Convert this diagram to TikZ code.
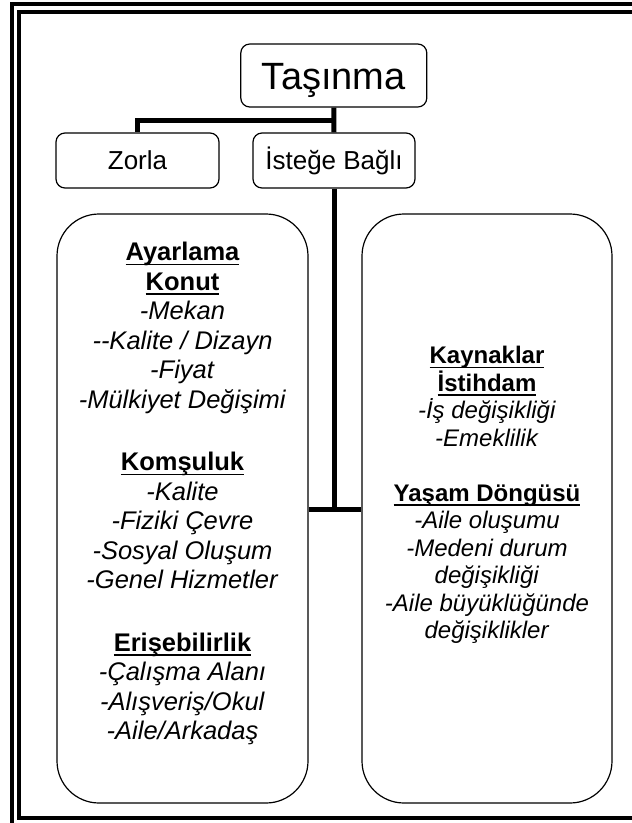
\documentclass[tikz,border=0pt]{standalone}
\usepackage{fontspec}
\setmainfont{Liberation Sans}
\newsavebox\ulbox
\newcommand\ulx[1]{\sbox\ulbox{#1}\rlap{\rule[-4.5pt]{\wd\ulbox}{1.5pt}}\usebox\ulbox}
\begin{document}
\begin{tikzpicture}[x=1pt,y=-1pt,
  box/.style={draw, line width=1.2pt, rounded corners=9pt, inner sep=0pt, text height=17pt, text depth=0pt, font=\fontsize{26}{30}\selectfont},
  bigbox/.style={draw, line width=1.2pt, rounded corners=42pt, minimum width=251pt, minimum height=589pt, inner sep=0pt},
  conn/.style={line width=5pt},
  frameline/.style={line width=4pt},
  txt/.style={align=center, inner sep=0pt, anchor=north}]
\useasboundingbox (0,0) rectangle (632,823);
\clip (0,0) rectangle (632,823);
% double frame
\draw[frameline] (12,4) rectangle (660,850);
\draw[frameline] (19,12) rectangle (660,817.5);
% top boxes
\node[box, minimum width=186pt, minimum height=63pt, text height=27pt, font=\fontsize{38}{44}\selectfont] (tas) at (333.8,75.5) {Taşınma};
\node[box, minimum width=163pt, minimum height=55pt] (zorla) at (137.5,160.5) {Zorla};
\node[box, minimum width=162pt, minimum height=55pt] (isteg) at (334,160.5) {İsteğe Bağlı};
% big boxes
\node[bigbox] (lb) at (182.5,508.5) {};
\node[bigbox, minimum width=250pt] (rb) at (487,508.5) {};
% texts
\node[txt, font=\fontsize{25.5}{29.5}\selectfont] (lt) at (182.5,242) {%
\textbf{\ulx{Ayarlama}}\\
\textbf{\ulx{Konut}}\\
\textit{-Mekan}\\
\textit{-{}-Kalite / Dizayn}\\
\textit{-Fiyat}\\
\textit{-Mülkiyet Değişimi}\\[33pt]
\textbf{\ulx{Komşuluk}}\\
\textit{-Kalite}\\
\textit{-Fiziki Çevre}\\
\textit{-Sosyal Oluşum}\\
\textit{-Genel Hizmetler}\\[33pt]
\textbf{\ulx{Erişebilirlik}}\\
\textit{-Çalışma Alanı}\\
\textit{-Alışveriş/Okul}\\
\textit{-Aile/Arkadaş}};
\node[txt, font=\fontsize{24}{27.5}\selectfont] (rt) at (487,346) {%
\textbf{\ulx{Kaynaklar}}\\
\textbf{\ulx{İstihdam}}\\
\textit{-İş değişikliği}\\
\textit{-Emeklilik}\\[27.5pt]
\textbf{\ulx{Yaşam Döngüsü}}\\
\textit{-Aile oluşumu}\\
\textit{-Medeni durum}\\
\textit{değişikliği}\\
\textit{-Aile büyüklüğünde}\\
\textit{değişiklikler}};
% connectors
\coordinate (j1) at (334,120);
\coordinate (j2) at (334,509);
\draw[conn] (tas.south) -- (isteg.north);
\draw[conn] (j1) -| (zorla.north);
\draw[conn] (isteg.south) -- (j2);
\draw[conn] (lb.east |- j2) -- (rb.west |- j2);
\end{tikzpicture}
\end{document}
